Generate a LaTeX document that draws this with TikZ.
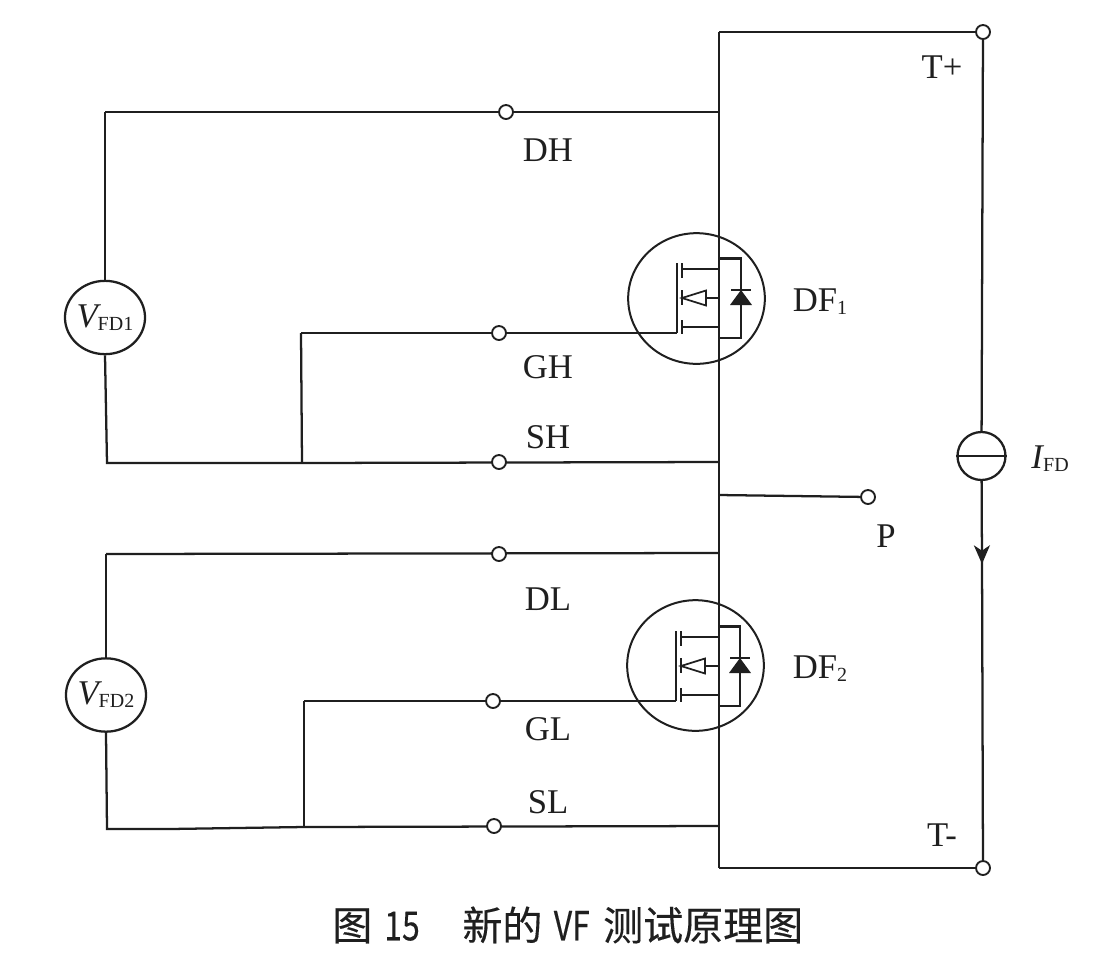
\documentclass[tikz,border=0pt]{standalone}
\usepackage{graphicx}
\usepackage{fontspec}
\setmainfont{Liberation Serif}
\newfontfamily\cjkcap[FakeBold=0.25]{Noto Sans CJK SC}
\usetikzlibrary{arrows.meta,shapes.geometric}
\newcommand{\lowsub}[1]{\raisebox{-2.2pt}{\fontsize{15pt}{15pt}\selectfont #1}}
\newcommand{\narrowed}[1]{\scalebox{0.8}[1]{#1}}
\tikzset{
  x=0.75pt,y=-0.75pt,
  wire/.style={line width=1.7pt,draw=black!88,line join=miter},
  term/.style={circle,draw=black!88,line width=1.4pt,fill=white,minimum size=10.5pt,inner sep=0pt},
  meter/.style={ellipse,draw=black!88,line width=1.7pt,fill=white,minimum width=58.5pt,minimum height=55pt,inner sep=0pt,text=black!88},
  srcnode/.style={circle,draw=black!88,line width=1.7pt,fill=white,minimum size=36pt,inner sep=0pt},
  lab/.style={inner sep=0pt,font=\fontsize{26pt}{26pt}\selectfont,text=black!88},
  captext/.style={inner sep=0pt,anchor=west,font=\cjkcap\fontsize{30pt}{30pt}\selectfont,text=black!88},
  ring/.style={ellipse,draw=black!88,line width=1.5pt,minimum width=102.5pt,minimum height=98pt,inner sep=0pt},
  pics/mosfet/.style={code={
    \draw[wire] (-20,-35) -- (-20,35);
    \draw[wire] (-15,-35) -- (-15,-20);
    \draw[wire] (-15,-8) -- (-15,7);
    \draw[wire] (-15,22) -- (-15,36);
    \draw[wire] (-15,-29) -- (22,-29);
    \draw[wire] (-15,29) -- (22,29);
    \draw[line width=1.3pt,draw=black!88,fill=white] (-15,0) -- (9,-7.5) -- (9,7.5) -- cycle;
    \draw[wire] (9,0) -- (22,0);
    \draw[wire] (22,-39.5) -- (44,-39.5) -- (44,40) -- (22,40);
    \fill[black!88] (44,-8) -- (55,7) -- (33,7) -- cycle;
    \draw[wire] (34,-8) -- (54,-8);
  }}
}
\begin{document}
\begin{tikzpicture}
\useasboundingbox (0,0) rectangle (1097,976);
\fill[white] (0,0) rectangle (1097,976);

% rails and junctions
\coordinate (topc) at (719,32);
\coordinate (botc) at (719,868);
\coordinate (jdh) at (719,112);
\coordinate (jsh) at (719,462);
\coordinate (jp) at (719,495);
\coordinate (jdl) at (719,553);
\coordinate (jsl) at (719,826);
\coordinate (cdh) at (105,112);
\coordinate (csh) at (107,463);
\coordinate (cdl) at (106,554);
\coordinate (csl) at (107,829);
\coordinate (bgh) at (301,333);
\coordinate (bsh) at (302,463);
\coordinate (bgl) at (304,701);
\coordinate (bsl) at (304,827);
\coordinate (g1) at (677,333);
\coordinate (g2) at (676,701);

% meters and source
\node[meter] (v1) at (105,317.5) {\fontsize{26pt}{26pt}\selectfont\textit{V}\kern-0.1em\lowsub{FD1}};
\node[meter] (v2) at (106,695) {\fontsize{26pt}{26pt}\selectfont\textit{V}\kern-0.1em\lowsub{FD2}};
\node[srcnode] (src) at (981.5,456) {};

% wires
\draw[wire] (topc) -- (botc);
\draw[wire] (983,32) -- (topc);
\draw[wire] (botc) -- (983,868);
\draw[wire] (cdh) -- (jdh);
\draw[wire] (v1.north) -- (cdh);
\draw[wire] (v1.south) -- (csh) -- (bsh) -- (jsh);
\draw[wire] (bgh) -- (bsh);
\draw[wire] (bgh) -- (g1);
\draw[wire] (jp) -- (868,497);
\draw[wire] (cdl) -- (jdl);
\draw[wire] (cdl) -- (v2.north);
\draw[wire] (v2.south) -- (csl) -- (170,829) -- (bsl) -- (jsl);
\draw[wire] (bgl) -- (bsl);
\draw[wire] (bgl) -- (g2);

% transistors
\node[ring] (q1) at (696.5,298.5) {};
\node[ring] (q2) at (695.5,665.5) {};
\pic at (697,298) {mosfet};
\pic at (696,666) {mosfet};

% source
\draw[wire] (src.west) -- (src.east);
\node[term] (tp) at (983,32) {};
\node[term] (tm) at (983,868) {};
\draw[wire] (tp) -- (src);
\draw[wire,-{Stealth[length=14pt,width=12pt,inset=4pt]}] (src) -- (982,564);
\draw[wire] (982,555) -- (tm);

% terminals
\node[term] (dh) at (506,112) {};
\node[term] (gh) at (499,333) {};
\node[term] (sh) at (499,462) {};
\node[term] (dl) at (499,554) {};
\node[term] (gl) at (493,701) {};
\node[term] (sl) at (494,826) {};
\node[term] (pp) at (868,497) {};

% labels
\node[lab] (ltp) at (942,67) {T+};
\node[lab] (ltm) at (942,835) {T-};
\node[lab] (ldh) at (548,150) {DH};
\node[lab] (lgh) at (548,367) {GH};
\node[lab] (lsh) at (548,437) {SH};
\node[lab] (lp) at (886,536) {P};
\node[lab] (ldl) at (548,599) {DL};
\node[lab] (lgl) at (548,729) {GL};
\node[lab] (lsl) at (548,802) {SL};
\node[lab] (ldf1) at (820,302) {DF\lowsub{1}};
\node[lab] (ldf2) at (820,669) {DF\lowsub{2}};
\node[lab] (lifd) at (1050,459) {\textit{I}\kern-0.03em\lowsub{FD}};
\node[captext] (caption) at (332,925) {图\hspace{9pt}\narrowed{15}\hspace{32pt}新的\hspace{8.5pt}\narrowed{VF}\hspace{10pt}测试原理图};
\end{tikzpicture}
\end{document}
